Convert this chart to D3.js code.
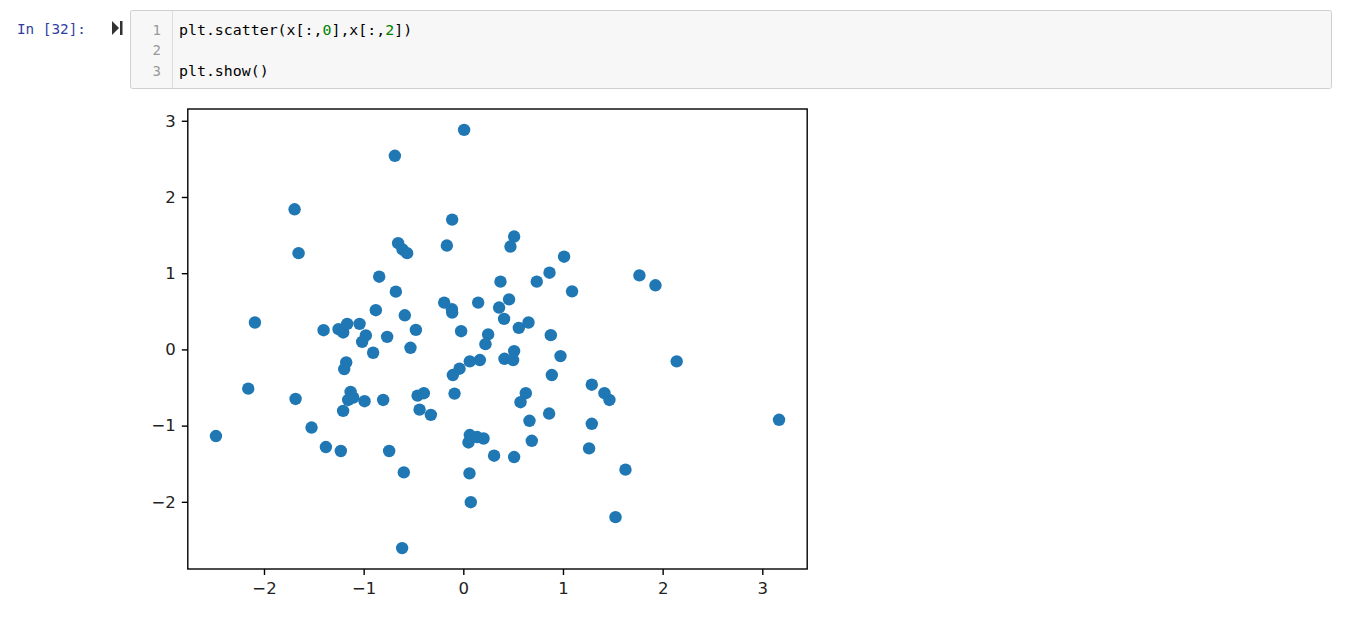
<!DOCTYPE html>
<html>
<head>
<meta charset="utf-8">
<script src="https://cdnjs.cloudflare.com/ajax/libs/d3/7.8.5/d3.min.js"></script>
<style>
  body { margin: 0; background: #fff; }
  svg { display: block; }
</style>
</head>
<body>
<script>
// scatter data: x[:,0] and x[:,2]
var xValues = [
  0.008, -0.687, -1.693, -1.653, -0.112, -0.165, -0.654, -0.610, -0.564, 0.510,
  0.473, -0.844, 0.373, -0.677, -2.091, -0.878, -0.192, -0.115, -0.112, 0.149,
  0.459, 0.359, 0.409, -0.587, -1.402, -1.252, -1.205, -1.165, -1.041, -0.476,
  -0.022, 0.249, 0.557, -0.978, -1.015, -0.764, 1.011, 0.865, 0.737, 1.091,
  0.222, 0.654, 0.878, 1.767, 1.928, 0.510, 0.413, 0.500, 0.975, 2.141,
  0.888, 1.289, 1.416, 1.466, 0.627, 0.574, 0.664, 0.861, 1.289, 3.168,
  0.687, 0.510, 1.262, 1.627, 1.527, 0.166, 0.065, -0.038, -0.105, -0.088,
  0.309, 0.065, 0.052, 0.138, 0.203, 0.062, -0.530, -0.905, -1.175, -1.195,
  -1.131, -1.104, -1.155, -0.991, -0.804, -1.206, -0.459, -0.396, -0.439, -0.326,
  -1.379, -1.229, -0.744, -0.597, -2.158, -1.683, -2.482, -1.523, -0.614, 0.075
];
var yValues = [
  2.880, 2.540, 1.838, 1.263, 1.703, 1.363, 1.393, 1.311, 1.263, 1.481,
  1.350, 0.954, 0.889, 0.758, 0.353, 0.514, 0.614, 0.527, 0.484, 0.614,
  0.657, 0.549, 0.400, 0.448, 0.252, 0.265, 0.222, 0.335, 0.335, 0.256,
  0.239, 0.196, 0.282, 0.183, 0.099, 0.165, 1.216, 1.006, 0.889, 0.762,
  0.069, 0.353, 0.187, 0.971, 0.841, -0.022, -0.123, -0.140, -0.088, -0.157,
  -0.336, -0.463, -0.575, -0.663, -0.575, -0.693, -0.937, -0.842, -0.976, -0.924,
  -1.199, -1.412, -1.299, -1.578, -2.201, -0.140, -0.157, -0.253, -0.336, -0.580,
  -1.395, -1.124, -1.221, -1.150, -1.169, -1.626, 0.021, -0.044, -0.170, -0.258,
  -0.558, -0.633, -0.663, -0.680, -0.663, -0.807, -0.606, -0.575, -0.790, -0.859,
  -1.281, -1.333, -1.333, -1.613, -0.515, -0.650, -1.137, -1.025, -2.607, -2.005
];
var xTicks = [-2, -1, 0, 1, 2, 3];
var yTicks = [-2, -1, 0, 1, 2, 3];
var codeLines = [
  [["plt.scatter(x[:,", "#000"], ["0", "#008000"], ["],x[:,", "#000"], ["2", "#008000"], ["])", "#000"]],
  [],
  [["plt.show()", "#000"]]
];

var svgWidth = 1345;
var svgHeight = 625;

var svg = d3.select("body")
  .append("svg")
  .attr("width", svgWidth)
  .attr("height", svgHeight);

// ---- notebook cell ----
svg.append("text")
  .attr("x", 17)
  .attr("y", 34)
  .attr("font-family", "DejaVu Sans Mono")
  .attr("font-size", "14.3px")
  .attr("fill", "#303F9F")
  .text("In [32]:");

// run marker
svg.append("path")
  .attr("d", "M112,21 L119,28 L112,35 Z")
  .attr("fill", "#333");
svg.append("rect")
  .attr("x", 120).attr("y", 21).attr("width", 2.5).attr("height", 14)
  .attr("fill", "#333");

svg.append("rect")
  .attr("x", 130.5).attr("y", 10.5)
  .attr("width", 1201).attr("height", 78)
  .attr("rx", 2)
  .attr("fill", "#f7f7f7")
  .attr("stroke", "#cfcfcf");
svg.append("line")
  .attr("x1", 172.5).attr("x2", 172.5)
  .attr("y1", 11).attr("y2", 88)
  .attr("stroke", "#dddddd");

var lineHeight = 20.7;
codeLines.forEach(function(parts, i) {
  var base = 34.5 + i * lineHeight;
  svg.append("text")
    .attr("x", 161)
    .attr("y", base)
    .attr("text-anchor", "end")
    .attr("font-family", "DejaVu Sans Mono")
    .attr("font-size", "14px")
    .attr("fill", "#999")
    .text(i + 1);
  var t = svg.append("text")
    .attr("x", 179)
    .attr("y", base)
    .attr("font-family", "DejaVu Sans Mono")
    .attr("font-size", "14.9px");
  parts.forEach(function(p) {
    t.append("tspan").attr("fill", p[1]).text(p[0]);
  });
});

// ---- scatter plot ----
var plot = { left: 187.8, right: 807.2, top: 109, bottom: 569 };

function padded(values) {
  var ext = d3.extent(values);
  var m = (ext[1] - ext[0]) * 0.05;
  return [ext[0] - m, ext[1] + m];
}

var xScale = d3.scaleLinear()
  .domain(padded(xValues))
  .range([plot.left, plot.right]);

var yScale = d3.scaleLinear()
  .domain(padded(yValues))
  .range([plot.bottom, plot.top]);

var points = xValues.map(function(v, i) { return { x: v, y: yValues[i] }; });

svg.append("g")
  .selectAll("circle")
  .data(points)
  .enter()
  .append("circle")
  .attr("cx", d => xScale(d.x))
  .attr("cy", d => yScale(d.y))
  .attr("r", 6.2)
  .attr("fill", "#1f77b4");

var fmt = d3.format("d");

var xAxis = svg.append("g")
  .attr("transform", `translate(0, ${plot.bottom})`)
  .call(d3.axisBottom(xScale).tickValues(xTicks).tickFormat(fmt)
    .tickSize(6).tickPadding(7).tickSizeOuter(0));

var yAxis = svg.append("g")
  .attr("transform", `translate(${plot.left}, 0)`)
  .call(d3.axisLeft(yScale).tickValues(yTicks).tickFormat(fmt)
    .tickSize(6).tickPadding(6).tickSizeOuter(0));

[xAxis, yAxis].forEach(function(ax) {
  ax.select(".domain").remove();
  ax.selectAll(".tick line").attr("stroke", "#000").attr("stroke-width", 1.4);
  ax.selectAll(".tick text")
    .attr("font-family", "DejaVu Sans")
    .attr("font-size", "16.5px")
    .attr("fill", "#222");
});

svg.append("rect")
  .attr("x", plot.left).attr("y", plot.top)
  .attr("width", plot.right - plot.left)
  .attr("height", plot.bottom - plot.top)
  .attr("fill", "none")
  .attr("stroke", "#000")
  .attr("stroke-width", 1.4);
</script>
</body>
</html>
